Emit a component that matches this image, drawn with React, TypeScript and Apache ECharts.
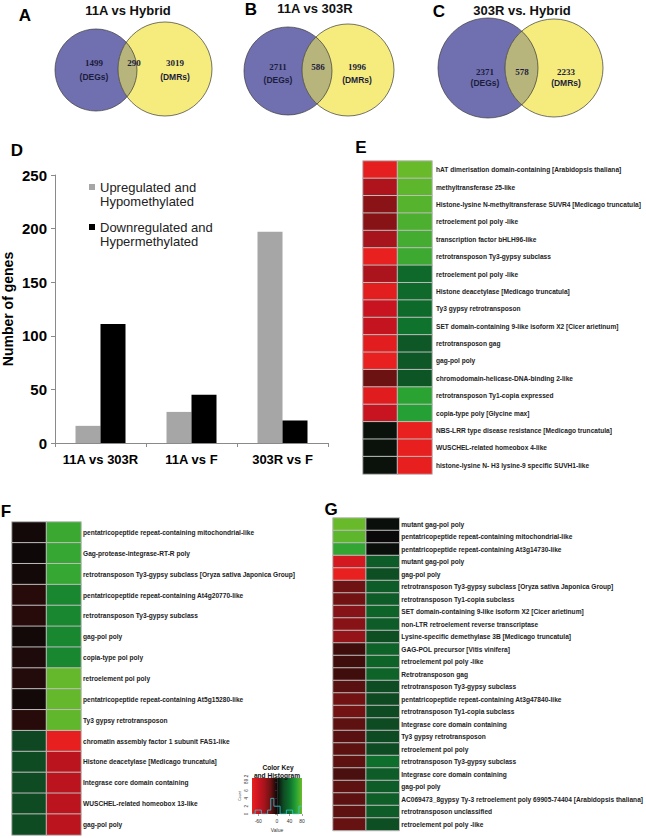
import { useEffect, useRef } from "react";
import * as echarts from "echarts";

// ---------- DATA ----------
const barCategories = ["11A vs 303R", "11A vs F", "303R vs F"];
const upHypo = [16, 29, 197];
const downHyper = [111, 45, 21];
const seriesUpName = "Upregulated and\nHypomethylated";
const seriesDownName = "Downregulated and\nHypermethylated";

const vennTitles = ["11A vs Hybrid", "11A vs 303R", "303R vs. Hybrid"];
const vennLetters = ["A", "B", "C"];
const vennDEGs = [1499, 2711, 2371];
const vennShared = [290, 586, 578];
const vennDMRs = [3019, 1996, 2233];

const heatColumns = ["c1", "c2"];

const eLabels = [
  "hAT dimerisation domain-containing [Arabidopsis thaliana]",
  "methyltransferase 25-like",
  "Histone-lysine N-methyltransferase SUVR4 [Medicago truncatula]",
  "retroelement pol poly -like",
  "transcription factor bHLH96-like",
  "retrotransposon Ty3-gypsy subclass",
  "retroelement pol poly -like",
  "Histone deacetylase [Medicago truncatula]",
  "Ty3 gypsy retrotransposon",
  "SET domain-containing 9-like isoform X2 [Cicer arietinum]",
  "retrotransposon gag",
  "gag-pol poly",
  "chromodomain-helicase-DNA-binding 2-like",
  "retrotransposon Ty1-copia expressed",
  "copia-type poly [Glycine max]",
  "NBS-LRR type disease resistance [Medicago truncatula]",
  "WUSCHEL-related homeobox 4-like",
  "histone-lysine N- H3 lysine-9 specific SUVH1-like",
];
const eCol1 = [-78, -46, -31, -30, -42, -80, -44, -76, -58, -56, -75, -80, -20, -74, -58, 3, 3, 3];
const eCol2 = [79, 76, 74, 71, 69, 67, 37, 37, 38, 42, 27, 27, 26, 62, 60, -80, -79, -79];

const fLabels = [
  "pentatricopeptide repeat-containing mitochondrial-like",
  "Gag-protease-integrase-RT-R poly",
  "retrotransposon Ty3-gypsy subclass [Oryza sativa Japonica Group]",
  "pentatricopeptide repeat-containing At4g20770-like",
  "retrotransposon Ty3-gypsy subclass",
  "gag-pol poly",
  "copia-type pol poly",
  "retroelement pol poly",
  "pentatricopeptide repeat-containing At5g15280-like",
  "Ty3 gypsy retrotransposon",
  "chromatin assembly factor 1 subunit FAS1-like",
  "Histone deacetylase [Medicago truncatula]",
  "Integrase core domain containing",
  "WUSCHEL-related homeobox 13-like",
  "gag-pol poly",
];
const fCol1 = [-2, -1, -2, -6, -6, -2, -4, -5, -2, -6, 19, 20, 20, 20, 20];
const fCol2 = [66, 65, 65, 50, 50, 50, 50, 78, 78, 77, -79, -52, -52, -52, -52];

const gLabels = [
  "mutant gag-pol poly",
  "pentatricopeptide repeat-containing mitochondrial-like",
  "pentatricopeptide repeat-containing At3g14730-like",
  "mutant gag-pol poly",
  "gag-pol poly",
  "retrotransposon Ty3-gypsy subclass [Oryza sativa Japonica Group]",
  "retrotransposon Ty1-copia subclass",
  "SET domain-containing 9-like isoform X2 [Cicer arietinum]",
  "non-LTR retroelement reverse transcriptase",
  "Lysine-specific demethylase 3B [Medicago truncatula]",
  "GAG-POL precursor [Vitis vinifera]",
  "retroelement pol poly -like",
  "Retrotransposon gag",
  "retrotransposon Ty3-gypsy subclass",
  "pentatricopeptide repeat-containing At3g47840-like",
  "retrotransposon Ty1-copia subclass",
  "Integrase core domain containing",
  "Ty3 gypsy retrotransposon",
  "retroelement pol poly",
  "retrotransposon Ty3-gypsy subclass",
  "Integrase core domain containing",
  "gag-pol poly",
  "AC069473_8gypsy Ty-3 retroelement poly 69905-74404 [Arabidopsis thaliana]",
  "retrotransposon unclassified",
  "retroelement pol poly -like",
];
const gCol1 = [79, 76, 64, -66, -80, -21, -22, -29, -30, -35, -11, -11, -11, -16, -22, -22, -17, -16, -17, -17, -13, -17, -17, -17, -19];
const gCol2 = [2, 0, 2, 30, 22, 30, 30, 34, 30, 22, 34, 34, 34, 21, 20, 20, 20, 20, 21, 40, 30, 30, 32, 30, 22];

const keyMin = -80;
const keyMax = 80;
const keyTicks = [-60, 0, 40, 80];
const keyHistBins = [-80, -70, -60, -50, -40, -30, -20, -10, 0, 10, 20, 30, 40, 50, 60, 70, 80];
const keyHistCounts = [0, 1, 1, 0, 0, 1, 4, 2, 2, 0, 0, 1, 1, 0, 0, 2, 2];

const heatColors = ["#e8201f", "#cc1420", "#a3141c", "#6c1212", "#0a0808", "#0e4a22", "#0e6e2c", "#24a034", "#6cbb2a"];

// ---------- LAYOUT ----------
const SANS = "Liberation Sans, Arial, Helvetica, sans-serif";
const SERIF = "Liberation Serif, DejaVu Serif, serif";

const vennLayout = [
  { c1: [96, 70], r1: 41, c2: [165, 69], r2: 47, title: [128, 10], letter: [25, 15], deg: [94, 63], shared: [134, 63], dmr: [175, 63], lab: 14 },
  { c1: [288, 71], r1: 44, c2: [348, 70], r2: 46, title: [315, 8], letter: [251, 9], deg: [278, 67], shared: [318, 67], dmr: [357, 67], lab: 13 },
  { c1: [488, 68], r1: 50, c2: [554, 68], r2: 49, title: [522, 10], letter: [439, 11], deg: [485, 72], shared: [522, 72], dmr: [566, 72], lab: 11 },
];

function lensPoints(c1: number[], r1: number, c2: number[], r2: number, n = 48) {
  const dx = c2[0] - c1[0];
  const dy = c2[1] - c1[1];
  const d = Math.hypot(dx, dy);
  const a = (r1 * r1 - r2 * r2 + d * d) / (2 * d);
  const th = Math.atan2(dy, dx);
  const al1 = Math.acos(Math.min(1, a / r1));
  const al2 = Math.acos(Math.min(1, (d - a) / r2));
  const pts: number[][] = [];
  for (let i = 0; i <= n; i++) {
    const t = th - al1 + (2 * al1 * i) / n;
    pts.push([c1[0] + r1 * Math.cos(t), c1[1] + r1 * Math.sin(t)]);
  }
  const ph = th + Math.PI;
  for (let i = 0; i <= n; i++) {
    const t = ph - al2 + (2 * al2 * i) / n;
    pts.push([c2[0] + r2 * Math.cos(t), c2[1] + r2 * Math.sin(t)]);
  }
  return pts;
}

function txt(text: string, x: number, y: number, font: string, fill = "#111", align = "center") {
  return { type: "text", style: { text, x, y, font, fill, align, verticalAlign: "middle" } };
}

function buildGraphic() {
  const els: any[] = [];
  vennLayout.forEach((L, i) => {
    els.push({ type: "circle", shape: { cx: L.c1[0], cy: L.c1[1], r: L.r1 }, style: { fill: "#7070b0" } });
    els.push({ type: "circle", shape: { cx: L.c2[0], cy: L.c2[1], r: L.r2 }, style: { fill: "#f6ec7e" } });
    els.push({ type: "polygon", shape: { points: lensPoints(L.c1, L.r1, L.c2, L.r2) }, style: { fill: "#b8b57c" } });
    els.push({ type: "circle", shape: { cx: L.c1[0], cy: L.c1[1], r: L.r1 }, style: { fill: "none", stroke: "#3a3a3a", lineWidth: 0.7 } });
    els.push({ type: "circle", shape: { cx: L.c2[0], cy: L.c2[1], r: L.r2 }, style: { fill: "none", stroke: "#3a3a3a", lineWidth: 0.7 } });
    els.push(txt(vennTitles[i], L.title[0], L.title[1], `bold 13px ${SANS}`, "#111"));
    els.push(txt(vennLetters[i], L.letter[0], L.letter[1], `bold 17px ${SANS}`, "#000"));
    els.push(txt(String(vennDEGs[i]), L.deg[0], L.deg[1], `bold 9px ${SERIF}`, "#1c1c3c"));
    els.push(txt("(DEGs)", L.deg[0], L.deg[1] + L.lab, `bold 8.5px ${SANS}`, "#1c1c3c"));
    els.push(txt(String(vennShared[i]), L.shared[0], L.shared[1], `bold 9px ${SERIF}`, "#1c1c3c"));
    els.push(txt(String(vennDMRs[i]), L.dmr[0], L.dmr[1], `bold 9px ${SERIF}`, "#1c1c3c"));
    els.push(txt("(DMRs)", L.dmr[0], L.dmr[1] + L.lab, `bold 8.5px ${SANS}`, "#1c1c3c"));
  });
  els.push(txt("D", 17, 150, `bold 17px ${SANS}`, "#000"));
  els.push(txt("E", 361, 147, `bold 17px ${SANS}`, "#000"));
  els.push(txt("F", 6, 511, `bold 17px ${SANS}`, "#000"));
  els.push(txt("G", 331, 509, `bold 17px ${SANS}`, "#000"));
  // colour key
  const stops = heatColors.map((c, i) => ({ offset: i / (heatColors.length - 1), color: c }));
  els.push({
    type: "rect",
    z: -1,
    shape: { x: 252, y: 778, width: 50, height: 36 },
    style: { fill: new echarts.graphic.LinearGradient(0, 0, 1, 0, stops) },
  });
  els.push(txt("Color Key", 278, 767, `bold 6.6px ${SANS}`, "#111"));
  els.push(txt("and Histogram", 277, 775, `bold 6.6px ${SANS}`, "#111"));
  return els;
}

function heatData(c1: number[], c2: number[]) {
  const out: number[][] = [];
  c1.forEach((v, i) => out.push([0, i, v]));
  c2.forEach((v, i) => out.push([1, i, v]));
  return out;
}

function heatYAxis(gridIndex: number, labels: string[], margin: number) {
  return {
    type: "category",
    gridIndex,
    data: labels,
    inverse: true,
    position: "right",
    axisLine: { show: false },
    axisTick: { show: false },
    splitLine: { show: false },
    axisLabel: { interval: 0, align: "left", margin, fontSize: 6.6, fontWeight: "bold", color: "#222", fontFamily: SANS },
  };
}

function heatXAxis(gridIndex: number) {
  return { type: "category", gridIndex, data: heatColumns, show: false };
}

function heatSeries(idx: number, data: number[][]) {
  return {
    type: "heatmap",
    xAxisIndex: idx,
    yAxisIndex: idx,
    data,
    itemStyle: { borderColor: "#bdbdbd", borderWidth: 1 },
    emphasis: { disabled: true },
  };
}

const legendIcon = "path://M0,4L6,4L6,10L0,10Z M0,0 M6,28";

export default function App() {
  const ref = useRef<HTMLDivElement>(null);
  useEffect(() => {
    if (!ref.current) return;
    const chart = echarts.init(ref.current, undefined, { renderer: "svg" });
    const option: any = {
      animation: false,
      backgroundColor: "#fff",
      textStyle: { fontFamily: SANS },
      graphic: buildGraphic(),
      legend: {
        left: 84,
        top: 175,
        orient: "vertical",
        itemWidth: 6,
        itemHeight: 28,
        itemGap: 12,
        selectedMode: false,
        textStyle: { fontSize: 13, lineHeight: 14, color: "#222", fontFamily: SANS },
        data: [
          { name: seriesUpName, icon: legendIcon },
          { name: seriesDownName, icon: legendIcon },
        ],
      },
      visualMap: {
        type: "continuous",
        min: keyMin,
        max: keyMax,
        dimension: 2,
        seriesIndex: [2, 3, 4],
        show: false,
        inRange: { color: heatColors },
      },
      grid: [
        { left: 54, top: 175, width: 274, height: 268 },
        { left: 363, top: 161, width: 69, height: 313 },
        { left: 12, top: 522, width: 69, height: 313 },
        { left: 333, top: 518, width: 69, height: 312.5 },
        { left: 252, top: 778, width: 50, height: 36 },
      ],
      xAxis: [
        {
          type: "category",
          gridIndex: 0,
          data: barCategories,
          axisLine: { lineStyle: { color: "#8a8a8a", width: 1 } },
          axisTick: { show: true, length: 4, lineStyle: { color: "#8a8a8a" } },
          axisLabel: { interval: 0, fontSize: 13, fontWeight: "bold", color: "#000", margin: 10 },
        },
        heatXAxis(1),
        heatXAxis(2),
        heatXAxis(3),
        {
          type: "value",
          gridIndex: 4,
          min: keyMin,
          max: keyMax,
          splitLine: { show: false },
          axisLine: { show: false },
          axisTick: { show: true, length: 2, customValues: keyTicks, lineStyle: { color: "#444", width: 0.5 } },
          axisLabel: { customValues: keyTicks, fontSize: 5, color: "#333", margin: 4 },
          name: "Value",
          nameLocation: "middle",
          nameGap: 13,
          nameTextStyle: { fontSize: 5, color: "#333" },
        },
      ],
      yAxis: [
        {
          type: "value",
          gridIndex: 0,
          min: 0,
          max: 250,
          interval: 50,
          splitLine: { show: false },
          axisLine: { show: true, lineStyle: { color: "#8a8a8a", width: 1 } },
          axisTick: { show: true, length: 4, lineStyle: { color: "#8a8a8a" } },
          axisLabel: { fontSize: 15, fontWeight: "bold", color: "#000", margin: 8 },
          name: "Number of genes",
          nameLocation: "middle",
          nameRotate: 90,
          nameGap: 40,
          nameTextStyle: { fontSize: 14, fontWeight: "bold", color: "#000" },
        },
        heatYAxis(1, eLabels, 4),
        heatYAxis(2, fLabels, 2),
        heatYAxis(3, gLabels, 2),
        {
          type: "value",
          gridIndex: 4,
          min: 0,
          max: 9.2,
          interval: 2,
          splitLine: { show: false },
          axisLine: { show: true, lineStyle: { color: "#444", width: 0.5 } },
          axisTick: { show: true, length: 2, lineStyle: { color: "#444", width: 0.5 } },
          axisLabel: { fontSize: 4.5, color: "#333", margin: 3, rotate: 90 },
          name: "Count",
          nameLocation: "middle",
          nameGap: 10,
          nameRotate: 90,
          nameTextStyle: { fontSize: 3.5, color: "#333" },
        },
      ],
      series: [
        {
          name: seriesUpName,
          type: "bar",
          xAxisIndex: 0,
          yAxisIndex: 0,
          data: upHypo,
          barWidth: 25,
          barGap: "0%",
          itemStyle: { color: "#a6a6a6" },
        },
        {
          name: seriesDownName,
          type: "bar",
          xAxisIndex: 0,
          yAxisIndex: 0,
          data: downHyper,
          barWidth: 25,
          barGap: "0%",
          itemStyle: { color: "#000000" },
        },
        heatSeries(1, heatData(eCol1, eCol2)),
        heatSeries(2, heatData(fCol1, fCol2)),
        heatSeries(3, heatData(gCol1, gCol2)),
        {
          type: "line",
          xAxisIndex: 4,
          yAxisIndex: 4,
          step: "end",
          symbol: "none",
          data: keyHistBins.map((b, i) => [b, keyHistCounts[i]]),
          lineStyle: { color: "#36c8d8", width: 0.8 },
          z: 5,
        },
      ],
    };
    chart.setOption(option);
    return () => chart.dispose();
  }, []);
  return <div ref={ref} style={{ position: "fixed", left: 0, top: 0, width: 646, height: 838, background: "#fff" }} />;
}
